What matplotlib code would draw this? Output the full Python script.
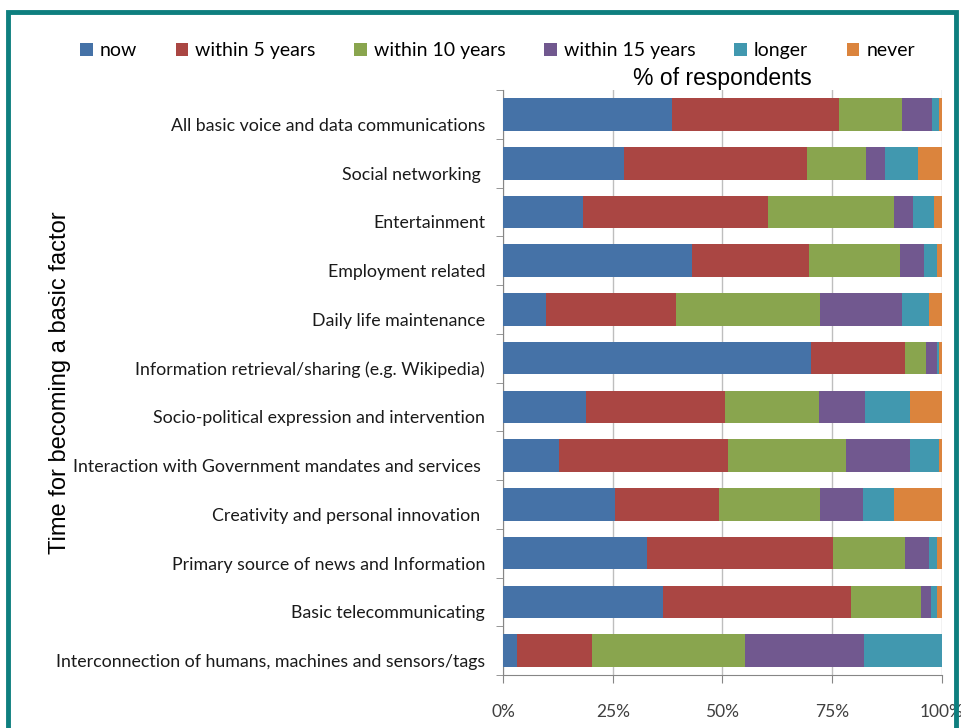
import matplotlib.pyplot as plt
from matplotlib.patches import Rectangle
from matplotlib.ticker import FixedLocator
from matplotlib.transforms import ScaledTranslation
import numpy as np

categories = [
    'All basic voice and data communications',
    'Social networking ',
    'Entertainment',
    'Employment related',
    'Daily life maintenance',
    'Information retrieval/sharing (e.g. Wikipedia)',
    'Socio-political expression and intervention',
    'Interaction with Government mandates and services ',
    'Creativity and personal innovation ',
    'Primary source of news and Information',
    'Basic telecommunicating',
    'Interconnection of humans, machines and sensors/tags',
]

series_names = ['now', 'within 5 years', 'within 10 years', 'within 15 years', 'longer', 'never']

now = [38.5, 27.5, 18.3, 43.1, 9.7, 70.1, 18.8, 12.8, 25.5, 32.8, 36.5, 3.1]
within_5 = [37.8, 41.9, 42.0, 26.7, 29.8, 21.4, 31.8, 38.4, 23.7, 42.5, 42.9, 17.1]
within_10 = [14.4, 13.4, 28.7, 20.6, 32.8, 4.8, 21.3, 26.9, 22.9, 16.3, 15.8, 35.0]
within_15 = [6.8, 4.4, 4.3, 5.5, 18.7, 2.5, 10.5, 14.7, 9.8, 5.5, 2.4, 27.0]
longer = [1.7, 7.4, 4.8, 3.0, 6.2, 0.5, 10.3, 6.6, 7.1, 1.8, 1.3, 17.8]
never = [0.6, 5.5, 1.8, 1.1, 2.9, 0.6, 7.2, 0.6, 10.9, 1.1, 1.1, 0.0]

x_ticks = [0, 25, 50, 75, 100]
x_tick_labels = ['0%', '25%', '50%', '75%', '100%']

colors = ['#4572A7', '#AA4643', '#89A54E', '#71588F', '#4198AF', '#DB843D']

fig = plt.figure(figsize=(9.62, 7.28), dpi=100)
ax = fig.add_axes([0.523, 0.0728, 0.456, 0.8035])

data = np.array([now, within_5, within_10, within_15, longer, never])
totals = data.sum(axis=0)
data = data / totals * 100

y = np.arange(len(categories))
left = np.zeros(len(categories))
for name, vals, col in zip(series_names, data, colors):
    ax.barh(y, vals, left=left, height=0.67, color=col, label=name, zorder=3)
    left += vals

ax.set_xlim(0, 100)
ax.set_ylim(len(categories) - 0.5, -0.5)

ax.set_xticks(x_ticks)
ax.set_xticklabels(x_tick_labels, family='Lato', fontsize=12.5, color='#404040')
ax.tick_params(axis='x', length=6, color='#868686', pad=15)

ax.set_yticks(y)
ax.set_yticklabels(categories, family='Lato', fontsize=12.8, color='#1a1a1a')
ax.tick_params(axis='y', which='major', length=0, pad=13)
ax.yaxis.set_minor_locator(FixedLocator(np.arange(len(categories) + 1) - 0.5))
ax.tick_params(axis='y', which='minor', length=5, color='#868686')
# labels sit a little below the bar centres in the original
shift = ScaledTranslation(0, -0.10, fig.dpi_scale_trans)
for lab in ax.get_yticklabels():
    lab.set_transform(lab.get_transform() + shift)

ax.grid(axis='x', color='#BEBEBE', lw=1, zorder=0)
for s in ['top', 'right']:
    ax.spines[s].set_visible(False)
for s in ['left', 'bottom']:
    ax.spines[s].set_color('#868686')

ax.set_title('% of respondents', family='Liberation Sans', fontsize=16.5, pad=1)
ax.set_ylabel('Time for becoming a basic factor', family='Liberation Sans', fontsize=17)
ax.yaxis.set_label_coords(-0.985, 0.5)

fig.legend(loc='center', bbox_to_anchor=(0.517, 0.930), ncol=6, frameon=False,
           prop={'family': 'Lato', 'size': 14}, handlelength=0.65, handleheight=0.65,
           handletextpad=0.35, columnspacing=2.0)

# teal frame
fig.patches.append(Rectangle((0.0085, -0.05), 0.985, 1.034, transform=fig.transFigure,
                             fill=False, edgecolor='#0E7F7F', lw=3.5))

fig.savefig('out.png', dpi=100)
